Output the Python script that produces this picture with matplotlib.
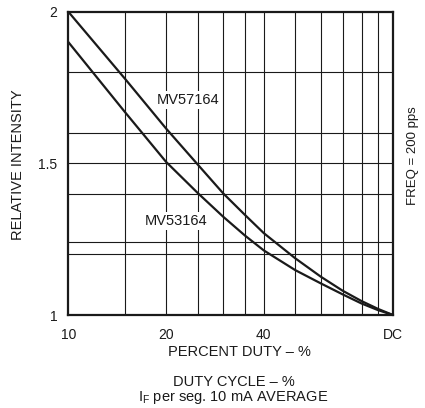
import matplotlib
matplotlib.use('Agg')

import matplotlib.pyplot as plt
from matplotlib.ticker import FixedLocator, NullLocator, FixedFormatter

plt.rcParams['font.family'] = ['Liberation Sans', 'DejaVu Sans']

# ─── Data ────────────────────────────────────────────────────────────────────
duty = [10, 15, 20, 25, 30, 35, 40, 50, 60, 70, 80, 90, 100]
mv57164 = [2.0, 1.777, 1.615, 1.497, 1.401, 1.33, 1.27, 1.187, 1.126, 1.08, 1.046, 1.02, 1.0]
mv53164 = [1.9, 1.667, 1.505, 1.403, 1.324, 1.262, 1.213, 1.148, 1.104, 1.068, 1.038, 1.016, 1.0]

x_ticks = [10, 20, 40, 100]
x_tick_labels = ["10", "20", "40", "DC"]
x_grid = [15, 20, 25, 30, 35, 40, 50, 60, 70, 80, 90]
y_ticks = [1, 1.5, 2]
y_tick_labels = ["1", "1.5", "2"]
y_grid = [1.2, 1.24, 1.4, 1.5, 1.6, 1.8]

INK = "#1a1a1a"

fig = plt.figure(figsize=(4.25, 4.08), dpi=100)
fig.patch.set_facecolor("white")
ax = fig.add_axes([0.1607, 0.2279, 0.764, 0.7434])

ax.set_xscale("log")
ax.set_xlim(10, 100)
ax.set_ylim(1, 2)

for gx in x_grid:
    ax.axvline(gx, color=INK, linewidth=0.8, zorder=1)
for gy in y_grid:
    ax.axhline(gy, color=INK, linewidth=0.8, zorder=1)

ax.plot(duty, mv57164, color=INK, linewidth=1.6, zorder=3, solid_joinstyle="round")
ax.plot(duty, mv53164, color=INK, linewidth=1.6, zorder=3, solid_joinstyle="round")

box = dict(facecolor="white", edgecolor="none", pad=1.5)
ax.text(23.3, 1.71, "MV57164", fontsize=10.5, ha="center", va="center",
        color=INK, bbox=box, zorder=2)
ax.text(21.5, 1.31, "MV53164", fontsize=10.5, ha="center", va="center",
        color=INK, bbox=box, zorder=2)

ax.xaxis.set_major_locator(FixedLocator(x_ticks))
ax.xaxis.set_major_formatter(FixedFormatter(x_tick_labels))
ax.xaxis.set_minor_locator(NullLocator())
ax.yaxis.set_major_locator(FixedLocator(y_ticks))
ax.yaxis.set_major_formatter(FixedFormatter(y_tick_labels))
ax.tick_params(length=0, labelsize=10, colors=INK)
ax.tick_params(axis="x", pad=9)
ax.tick_params(axis="y", pad=8)

for spine in ax.spines.values():
    spine.set_linewidth(1.6)
    spine.set_color(INK)
    spine.set_zorder(4)

fig.text(18 / 425, 1 - 165 / 408, "RELATIVE INTENSITY", rotation=90,
         ha="center", va="center", fontsize=10.5, color=INK)
fig.text(413 / 425, 1 - 156 / 408, "FREQ = 200 pps", rotation=90,
         ha="center", va="center", fontsize=9.5, color=INK)
fig.text(239 / 425, 1 - 352 / 408, "PERCENT DUTY \u2013 %",
         ha="center", va="center", fontsize=10.5, color=INK)
fig.text(234 / 425, 1 - 382 / 408, "DUTY CYCLE \u2013 %",
         ha="center", va="center", fontsize=10.5, color=INK)
fig.text(233 / 425, 1 - 397 / 408, r"$\mathregular{I_F}$ per seg. 10 mA AVERAGE",
         ha="center", va="center", fontsize=10.5, color=INK)

fig.savefig("out.png", dpi=100, facecolor="white")
